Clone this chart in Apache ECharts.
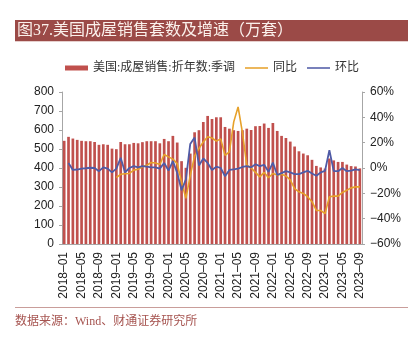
<!DOCTYPE html>
<html>
<head>
<meta charset="utf-8">
<script src="https://cdn.jsdelivr.net/npm/echarts@6/dist/echarts.min.js"></script>
<style>
  html, body { margin: 0; padding: 0; background: #ffffff; }
  #chart { width: 419px; height: 337px; }
</style>
</head>
<body>
<div id="chart"></div>
<script>
// Monthly categories, 2018-01 .. 2023-09
const months = [
  '2018-01','2018-02','2018-03','2018-04','2018-05','2018-06','2018-07','2018-08','2018-09','2018-10','2018-11','2018-12',
  '2019-01','2019-02','2019-03','2019-04','2019-05','2019-06','2019-07','2019-08','2019-09','2019-10','2019-11','2019-12',
  '2020-01','2020-02','2020-03','2020-04','2020-05','2020-06','2020-07','2020-08','2020-09','2020-10','2020-11','2020-12',
  '2021-01','2021-02','2021-03','2021-04','2021-05','2021-06','2021-07','2021-08','2021-09','2021-10','2021-11','2021-12',
  '2022-01','2022-02','2022-03','2022-04','2022-05','2022-06','2022-07','2022-08','2022-09','2022-10','2022-11','2022-12',
  '2023-01','2023-02','2023-03','2023-04','2023-05','2023-06','2023-07','2023-08','2023-09'
];

// Existing home sales, SAAR (10k units)
const sales = [
  543, 564, 555, 548, 543, 541, 541, 537, 522, 525, 522, 502,
  499, 537, 525, 525, 532, 530, 536, 541, 541, 541, 530, 553,
  541, 569, 534, 436, 401, 476, 588, 599, 642, 674, 658, 667,
  667, 616, 607, 599, 595, 599, 607, 600, 620, 621, 634, 611,
  637, 595, 569, 558, 539, 513, 488, 476, 467, 443, 411, 403,
  397, 450, 440, 432, 432, 418, 410, 408, 398
];

// Year-over-year change (%)
const yoy = [
  null, null, null, null, null, null, null, null, null, null, null, null,
  -7.5, -5, -4.5, -4.3, -1.7, -1, 0.9, 2.2, 4.3, 4, 2.8, 10.7,
  8.8, 7, 3.5, -11, -24, -6, 9.6, 15.4, 20.6, 24.6, 23.7, 21.2,
  23, 10, 12.8, 36.4, 48.2, 28, 2.2, 0, -3.5, -7, -3.5, -7.7,
  -4.3, -5.6, -5, -6.3, -9.4, -16.2, -18.8, -20.1, -22.7, -26.6, -33.5, -33.5,
  -36, -22.7, -22.2, -22.2, -19.3, -17.5, -15.7, -14.9, -14.9
];

// Month-over-month change (%)
const mom = [
  null, 4, -1.5, -1.2, -0.5, -0.2, 0.2, 0, -2.5, 0.5, -0.5, -3.5,
  -0.5, 8, -3.5, 0, 1.5, 0.5, 1.5, 1, 0.5, 0.5, -0.5, 4,
  -2, 5.5, -4, -17.5, -9, 19, 24, 2, 7.5, 4, -1.5, 1,
  0, -6.5, -1.5, -1, -0.5, 0.8, 1.5, 0.5, 3, 1.5, 2.5, -3,
  4.3, -5.5, -4, -2.5, -3.5, -4.8, -4.8, -3.5, -2.2, -4.3, -6.1, -3.5,
  -2.2, 14, -2.5, -2.5, 0, -2.5, -2, -1, -1.7
];

const seriesNames = ['美国:成屋销售:折年数:季调', '同比', '环比'];
const titleText = '图37.美国成屋销售套数及增速（万套）';
const sourceText = '数据来源：Wind、财通证券研究所';

const serifFont = "'Liberation Serif', 'Noto Sans CJK SC', serif";
const axisFont = "'Liberation Sans', Arial, sans-serif";
const axisGray = '#A6A6A6';
const barColor = '#C0504D';
const yoyColor = '#E6A12A';
const momColor = '#4F5BA6';
// thin horizontal stroke used as the legend key for the two lines
const lineKey = 'path://M0,0 L30,0 L30,2 L0,2 Z';

const chart = echarts.init(document.getElementById('chart'), null, { renderer: 'canvas' });

chart.setOption({
  animation: false,
  backgroundColor: '#ffffff',
  graphic: [
    { type: 'rect', shape: { x: 15, y: 20, width: 393, height: 21 }, style: { fill: '#9B4A47' } },
    { type: 'rect', shape: { x: 15, y: 41, width: 393, height: 1 }, style: { fill: '#E6CFCD' } },
    { type: 'text', x: 17, y: 31, style: { text: titleText, fill: '#FBF1EC', font: '16px ' + serifFont, verticalAlign: 'middle' } },
    { type: 'rect', shape: { x: 15, y: 307, width: 393, height: 1 }, style: { fill: '#C99D9A' } },
    { type: 'text', x: 15, y: 322, style: { text: sourceText, fill: '#A65450', font: '12px ' + serifFont, verticalAlign: 'middle' } }
  ],
  legend: {
    top: 57,
    left: 60,
    itemGap: 10,
    itemWidth: 23,
    itemHeight: 5,
    textStyle: { fontFamily: serifFont, fontSize: 12, color: '#333' },
    data: [
      { name: seriesNames[0], icon: 'rect' },
      { name: seriesNames[1], icon: lineKey },
      { name: seriesNames[2], icon: lineKey }
    ]
  },
  grid: { left: 62, right: 57, top: 92, bottom: 93, containLabel: false },
  xAxis: {
    type: 'category',
    data: months,
    boundaryGap: true,
    axisLine: { lineStyle: { color: axisGray, width: 1 } },
    axisTick: { show: false },
    axisLabel: {
      interval: 3,
      rotate: 90,
      fontFamily: axisFont,
      fontSize: 12,
      color: '#222',
      margin: 8,
      formatter: v => v.replace('-', '–')
    }
  },
  yAxis: [
    {
      type: 'value', min: 0, max: 800, interval: 100,
      axisLine: { show: true, lineStyle: { color: axisGray } },
      axisTick: { show: true, length: 3, lineStyle: { color: axisGray } },
      splitLine: { show: false },
      axisLabel: { fontFamily: axisFont, fontSize: 12, color: '#222', margin: 8 }
    },
    {
      type: 'value', min: -60, max: 60, interval: 20, position: 'right',
      axisLine: { show: true, lineStyle: { color: axisGray } },
      axisTick: { show: true, length: 3, lineStyle: { color: axisGray } },
      splitLine: { show: false },
      axisLabel: {
        fontFamily: axisFont, fontSize: 12, color: '#222', margin: 8,
        formatter: v => (v < 0 ? '−' + Math.abs(v) : v) + '%'
      }
    }
  ],
  series: [
    {
      name: seriesNames[0], type: 'bar', data: sales, yAxisIndex: 0,
      barWidth: '62%',
      itemStyle: { color: barColor }
    },
    {
      name: seriesNames[1], type: 'line', data: yoy, yAxisIndex: 1,
      symbol: 'none', connectNulls: false,
      lineStyle: { color: yoyColor, width: 1.6 },
      itemStyle: { color: yoyColor }
    },
    {
      name: seriesNames[2], type: 'line', data: mom, yAxisIndex: 1,
      symbol: 'none',
      lineStyle: { color: momColor, width: 1.8 },
      itemStyle: { color: momColor }
    }
  ]
});
</script>
</body>
</html>
